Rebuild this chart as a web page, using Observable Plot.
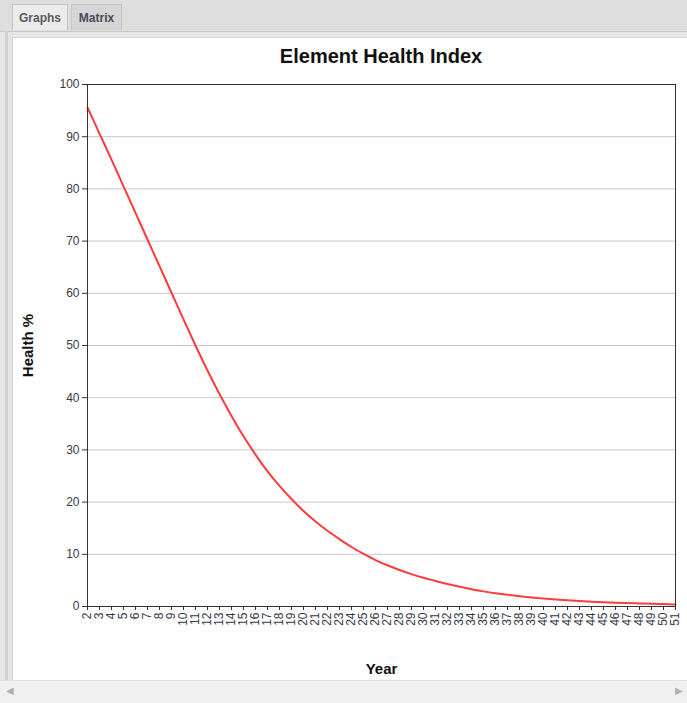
<!DOCTYPE html>
<html>
<head>
<meta charset="utf-8">
<script src="https://cdn.jsdelivr.net/npm/d3@7"></script>
<script src="https://cdn.jsdelivr.net/npm/@observablehq/plot@0.6"></script>
<style>
  html, body { margin: 0; padding: 0; width: 687px; height: 703px; overflow: hidden; background: #e6e6e6; font-family: Arial, "Liberation Sans", sans-serif; }
  #tabs { position: absolute; left: 0; top: 0; width: 687px; height: 31px; background: #dedede; border-bottom: 1px solid #c8c8c8; }
  .tab { position: absolute; top: 4px; height: 26px; line-height: 26px; font-size: 12px; font-weight: bold; color: #555; text-align: center; border: 1px solid #c4c4c4; border-bottom: none; box-sizing: border-box; }
  #t1 { left: 12px; width: 56px; background: #ececec; color: #5a5a5a; }
  #t2 { left: 71px; width: 51px; background: #d6d6d6; color: #4a4a58; }
  #leftedge { position: absolute; left: 5px; top: 31px; width: 3px; height: 650px; background: #cfcfcf; }
  #panel { position: absolute; left: 12px; top: 37px; width: 675px; height: 643px; background: #ffffff; border-left: 1px solid #d0d0d0; border-top: 1px solid #d8d8d8; box-sizing: border-box; }
  #title { position: absolute; left: 87px; top: 45px; width: 588px; text-align: center; font-size: 20px; font-weight: bold; color: #111; }
  #chart { position: absolute; left: 12px; top: 70px; }
  #scroll { position: absolute; left: 0; top: 680px; width: 687px; height: 23px; background: #f0f0f0; border-top: 1px solid #e2e2e2; }
  .arrow { position: absolute; top: 4px; font-size: 10px; color: #b0b0b0; }
</style>
</head>
<body>
<div id="tabs">
  <div class="tab" id="t1">Graphs</div>
  <div class="tab" id="t2">Matrix</div>
</div>
<div id="leftedge"></div>
<div id="panel"></div>
<div id="title">Element Health Index</div>
<div id="chart"></div>
<div id="scroll"><span class="arrow" style="left:6px">&#9664;</span><span class="arrow" style="left:675px">&#9654;</span></div>
<script>
const years = [2,3,4,5,6,7,8,9,10,11,12,13,14,15,16,17,18,19,20,21,22,23,24,25,26,27,28,29,30,31,32,33,34,35,36,37,38,39,40,41,42,43,44,45,46,47,48,49,50,51];
const health = [95.6,90.6,85.6,80.5,75.4,70.3,65.2,60.1,55.0,50.0,45.2,40.7,36.5,32.6,29.1,25.9,23.1,20.6,18.3,16.3,14.5,12.9,11.4,10.1,8.9,7.9,7.0,6.2,5.5,4.9,4.3,3.8,3.3,2.9,2.55,2.25,1.98,1.74,1.53,1.35,1.19,1.05,0.93,0.83,0.74,0.66,0.59,0.52,0.46,0.4];
const yTicks = [0,10,20,30,40,50,60,70,80,90,100];
const gridTicks = [10,20,30,40,50,60,70,80,90];

const data = years.map((y, i) => ({year: y, health: health[i]}));

const chart = Plot.plot({
  width: 675,
  height: 610,
  marginLeft: 75,
  marginRight: 12,
  marginTop: 14,
  marginBottom: 74,
  style: { fontFamily: "Arial, 'Liberation Sans', sans-serif", fontSize: "12px", color: "#3a3a48", background: "transparent" },
  x: { domain: [2, 51] },
  y: { domain: [0, 100] },
  marks: [
    Plot.gridY(gridTicks, { stroke: "#c8c8c8", strokeOpacity: 1, strokeWidth: 1 }),
    Plot.axisY(yTicks, { tickSize: 5, tickPadding: 3, stroke: "#333", fontSize: 12, label: "Health %", labelAnchor: "center", labelArrow: "none", labelOffset: 65 }),
    Plot.axisX(years, { tickSize: 4, tickPadding: 2, tickRotate: -90, stroke: "#333", fontSize: 12, tickFormat: d => String(d), label: "Year", labelAnchor: "center", labelArrow: "none", labelOffset: 67 }),
    Plot.line(data, { x: "year", y: "health", stroke: "#ff3b3b", strokeWidth: 2, curve: "catmull-rom" }),
    Plot.frame({ stroke: "#333", strokeWidth: 1 })
  ]
});
chart.querySelectorAll("[aria-label='x-axis label'] text, [aria-label='y-axis label'] text").forEach(t => {
  t.setAttribute("font-weight", "bold");
  t.setAttribute("font-size", "15");
  t.setAttribute("fill", "#111");
});
document.getElementById("chart").appendChild(chart);
</script>
</body>
</html>
